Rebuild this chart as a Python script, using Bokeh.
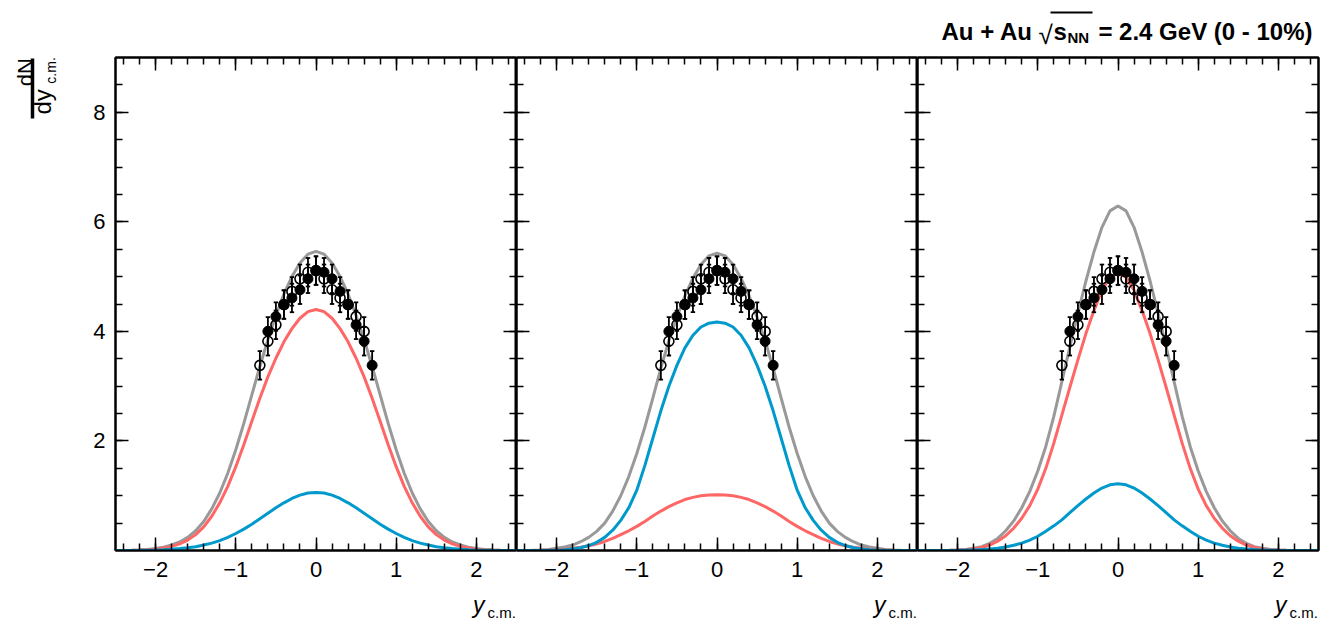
from bokeh.plotting import figure
from bokeh.models import FixedTicker, LinearAxis, Range1d, ColumnDataSource
from bokeh.layouts import row, column
from bokeh.core.properties import value
from bokeh.embed import file_html
from bokeh.resources import INLINE

# ---------------- data ----------------
x_model = [-2.5, -2.4, -2.3, -2.2, -2.1, -2.0, -1.9, -1.8, -1.7, -1.6, -1.5, -1.4, -1.3,
           -1.2, -1.1, -1.0, -0.9, -0.8, -0.7, -0.6, -0.5, -0.4, -0.3, -0.2, -0.1, 0.0,
           0.1, 0.2, 0.3, 0.4, 0.5, 0.6, 0.7, 0.8, 0.9, 1.0, 1.1, 1.2, 1.3, 1.4, 1.5,
           1.6, 1.7, 1.8, 1.9, 2.0, 2.1, 2.2, 2.3, 2.4, 2.5]

# panel 1
gray_1 = [0.0, 0.002, 0.005, 0.01, 0.02, 0.035, 0.06, 0.10, 0.155, 0.24, 0.36, 0.53, 0.76,
          1.05, 1.41, 1.84, 2.32, 2.84, 3.36, 3.85, 4.29, 4.68, 5.00, 5.25, 5.41, 5.46,
          5.41, 5.25, 5.00, 4.68, 4.29, 3.85, 3.36, 2.84, 2.32, 1.84, 1.41, 1.05, 0.76, 0.53,
          0.36, 0.24, 0.155, 0.10, 0.06, 0.035, 0.02, 0.01, 0.005, 0.002, 0.0]
red_1 = [0.0, 0.002, 0.004, 0.007, 0.014, 0.025, 0.045, 0.075, 0.12, 0.19, 0.29, 0.43, 0.625,
         0.87, 1.17, 1.53, 1.93, 2.36, 2.78, 3.17, 3.51, 3.81, 4.05, 4.24, 4.36, 4.40,
         4.36, 4.24, 4.05, 3.81, 3.51, 3.17, 2.78, 2.36, 1.93, 1.53, 1.17, 0.87, 0.625, 0.43,
         0.29, 0.19, 0.12, 0.075, 0.045, 0.025, 0.014, 0.007, 0.004, 0.002, 0.0]
blue_1 = [0.0, 0.0, 0.001, 0.003, 0.006, 0.01, 0.015, 0.025, 0.035, 0.05, 0.07, 0.10, 0.135,
          0.18, 0.24, 0.31, 0.39, 0.48, 0.58, 0.68, 0.78, 0.87, 0.95, 1.01, 1.05, 1.06,
          1.05, 1.01, 0.95, 0.87, 0.78, 0.68, 0.58, 0.48, 0.39, 0.31, 0.24, 0.18, 0.135, 0.10,
          0.07, 0.05, 0.035, 0.025, 0.015, 0.01, 0.006, 0.003, 0.001, 0.0, 0.0]

# panel 2
gray_2 = [0.0, 0.002, 0.005, 0.01, 0.02, 0.04, 0.065, 0.10, 0.16, 0.24, 0.35, 0.50, 0.72,
          1.00, 1.35, 1.77, 2.25, 2.78, 3.33, 3.83, 4.26, 4.65, 4.97, 5.22, 5.38, 5.43,
          5.38, 5.22, 4.97, 4.65, 4.26, 3.83, 3.33, 2.78, 2.25, 1.77, 1.35, 1.00, 0.72, 0.50,
          0.35, 0.24, 0.16, 0.10, 0.065, 0.04, 0.02, 0.01, 0.005, 0.002, 0.0]
red_2 = [0.0, 0.001, 0.002, 0.005, 0.009, 0.015, 0.025, 0.04, 0.06, 0.085, 0.12, 0.165, 0.22,
         0.29, 0.36, 0.44, 0.53, 0.63, 0.72, 0.80, 0.87, 0.93, 0.97, 1.00, 1.015, 1.02,
         1.015, 1.00, 0.97, 0.93, 0.87, 0.80, 0.72, 0.63, 0.53, 0.44, 0.36, 0.29, 0.22, 0.165,
         0.12, 0.085, 0.06, 0.04, 0.025, 0.015, 0.009, 0.005, 0.002, 0.001, 0.0]
blue_2 = [0.0, 0.0, 0.001, 0.002, 0.004, 0.008, 0.015, 0.03, 0.05, 0.09, 0.15, 0.24, 0.37,
          0.55, 0.78, 1.10, 1.55, 2.05, 2.55, 3.00, 3.38, 3.70, 3.93, 4.08, 4.15, 4.17,
          4.15, 4.08, 3.93, 3.70, 3.38, 3.00, 2.55, 2.05, 1.55, 1.10, 0.78, 0.55, 0.37, 0.24,
          0.15, 0.09, 0.05, 0.03, 0.015, 0.008, 0.004, 0.002, 0.001, 0.0, 0.0]

# panel 3
gray_3 = [0.0, 0.0, 0.001, 0.002, 0.005, 0.01, 0.02, 0.04, 0.07, 0.13, 0.22, 0.36, 0.54,
          0.78, 1.08, 1.45, 1.90, 2.45, 3.08, 3.72, 4.33, 4.92, 5.45, 5.90, 6.20, 6.29,
          6.20, 5.90, 5.45, 4.92, 4.33, 3.72, 3.08, 2.45, 1.90, 1.45, 1.08, 0.78, 0.54, 0.36,
          0.22, 0.13, 0.07, 0.04, 0.02, 0.01, 0.005, 0.002, 0.001, 0.0, 0.0]
red_3 = [0.0, 0.0, 0.0, 0.001, 0.003, 0.007, 0.015, 0.03, 0.055, 0.10, 0.17, 0.27, 0.41,
         0.59, 0.82, 1.12, 1.50, 1.96, 2.47, 2.98, 3.48, 3.96, 4.38, 4.75, 4.99, 5.06,
         4.99, 4.75, 4.38, 3.96, 3.48, 2.98, 2.47, 1.96, 1.50, 1.12, 0.82, 0.59, 0.41, 0.27,
         0.17, 0.10, 0.055, 0.03, 0.015, 0.007, 0.003, 0.001, 0.0, 0.0, 0.0]
blue_3 = [0.0, 0.0, 0.0, 0.001, 0.002, 0.004, 0.007, 0.011, 0.018, 0.028, 0.043, 0.065, 0.095,
          0.135, 0.19, 0.26, 0.35, 0.45, 0.56, 0.69, 0.82, 0.94, 1.05, 1.14, 1.20, 1.22,
          1.20, 1.14, 1.05, 0.94, 0.82, 0.69, 0.56, 0.45, 0.35, 0.26, 0.19, 0.135, 0.095, 0.065,
          0.043, 0.028, 0.018, 0.011, 0.007, 0.004, 0.002, 0.001, 0.0, 0.0, 0.0]

# measured points (same in every panel)
filled_x = [-0.6, -0.5, -0.4, -0.3, -0.2, -0.1, 0.0, 0.1, 0.2, 0.3, 0.4, 0.5, 0.6, 0.7]
filled_y = [4.00, 4.27, 4.49, 4.61, 4.76, 4.96, 5.11, 5.08, 4.96, 4.73, 4.49, 4.12, 3.82, 3.38]
filled_err = [0.26, 0.26, 0.26, 0.26, 0.26, 0.26, 0.26, 0.26, 0.26, 0.26, 0.26, 0.26, 0.26, 0.26]
open_x = [-0.7, -0.6, -0.5, -0.4, -0.3, -0.2, -0.1, 0.0, 0.1, 0.2, 0.3, 0.4, 0.5, 0.6]
open_y = [3.38, 3.82, 4.12, 4.49, 4.73, 4.96, 5.08, 5.11, 4.96, 4.76, 4.61, 4.49, 4.27, 4.00]
open_err = [0.26, 0.26, 0.26, 0.26, 0.26, 0.26, 0.26, 0.26, 0.26, 0.26, 0.26, 0.26, 0.26, 0.26]

x_major = [-2, -1, 0, 1, 2]
x_labels = {-2: "\u22122", -1: "\u22121", 0: "0", 1: "1", 2: "2"}
y_major = [2, 4, 6, 8]
y_labels = {2: "2", 4: "4", 6: "6", 8: "8"}

title_parts = ["Au + Au", "\u221a", "s", "NN", "= 2.4 GeV (0 - 10%)"]
ylabel_parts = ["dN", "dy", "c.m."]
xlabel_parts = ["y", "c.m."]

panels = [(gray_1, red_1, blue_1), (gray_2, red_2, blue_2), (gray_3, red_3, blue_3)]

# ---------------- style / layout ----------------
FONT = "Liberation Sans"
GRAY, RED, BLUE = "#999999", "#ff6666", "#0099cc"
W, H = 1332, 621
FW, FH = 401, 493
HEADER_H = 56          # header strip height
PANEL_TOP = 1          # small top border so frame line is whole (frame top at 57)
PANEL_BOTTOM = 40      # room for the tick labels
FOOTER_H = H - HEADER_H - PANEL_TOP - FH - PANEL_BOTTOM
LEFT_W = 60            # strip holding the y title
P1_LEFT = 55           # room for y tick labels
P3_RIGHT = 14
XMIN, XMAX, YMIN, YMAX = -2.5, 2.5, 0.0, 9.0
PANEL_LEFT = [115, 516, 917]

x_minor = [round(-2.4 + 0.2 * k, 1) for k in range(25)]
y_minor = [0.5 * k for k in range(1, 18)]


def style_axis(ax, ticker, show_labels, overrides=None):
    ax.ticker = ticker
    ax.axis_line_color = "black"
    ax.axis_line_width = 2
    ax.major_tick_in = 13
    ax.major_tick_out = 0
    ax.minor_tick_in = 7
    ax.minor_tick_out = 0
    ax.major_tick_line_width = 1.5
    ax.minor_tick_line_width = 1.5
    ax.major_tick_line_color = "black"
    ax.minor_tick_line_color = "black"
    if show_labels:
        ax.major_label_text_font = FONT
        ax.major_label_text_font_size = "22px"
        ax.major_label_text_color = "black"
        if overrides:
            ax.major_label_overrides = overrides
    else:
        ax.major_label_text_font_size = "0px"
        ax.major_label_text_color = None
        ax.major_label_standoff = 0


def pixel_fig(width, height, x0, y_top):
    """A blank figure whose data coordinates are page pixels."""
    f = figure(width=width, height=height,
               x_range=Range1d(x0, x0 + width), y_range=Range1d(y_top + height, y_top),
               output_backend="svg", toolbar_location=None,
               x_axis_location=None, y_axis_location=None, min_border=0)
    f.grid.visible = False
    f.outline_line_color = None
    f.background_fill_color = "white"
    f.border_fill_color = "white"
    return f


def put_text(f, x, y, txt, size, align="left", baseline="alphabetic", style="normal", angle=0.0):
    f.text(x=[x], y=[y], text=[txt], text_font=value(FONT), text_font_size=value(f"{size}px"),
           text_align=align, text_baseline=baseline, text_font_style=style, angle=angle,
           text_color="black")


figs = []
for i, (g, r, b) in enumerate(panels):
    p = figure(frame_width=FW, frame_height=FH,
               x_range=Range1d(XMIN, XMAX), y_range=Range1d(YMIN, YMAX),
               output_backend="svg", toolbar_location=None,
               min_border_left=P1_LEFT if i == 0 else 0,
               min_border_right=P3_RIGHT if i == 2 else 0,
               min_border_top=PANEL_TOP, min_border_bottom=PANEL_BOTTOM)
    p.grid.visible = False
    p.outline_line_color = "black"
    p.outline_line_width = 2
    p.background_fill_color = "white"
    p.border_fill_color = "white"

    style_axis(p.xaxis[0], FixedTicker(ticks=x_major, minor_ticks=x_minor), True, x_labels)
    p.xaxis[0].major_label_standoff = 11
    style_axis(p.yaxis[0], FixedTicker(ticks=y_major, minor_ticks=y_minor), i == 0, y_labels)
    if i == 0:
        p.yaxis[0].major_label_standoff = 10
    rax = LinearAxis()
    style_axis(rax, FixedTicker(ticks=y_major, minor_ticks=y_minor), False)
    p.add_layout(rax, "right")
    tax = LinearAxis()
    style_axis(tax, FixedTicker(ticks=x_major, minor_ticks=x_minor), False)
    p.add_layout(tax, "above")

    src = ColumnDataSource(dict(x=x_model, g=g, r=r, b=b))
    p.line("x", "g", source=src, line_color=GRAY, line_width=3)
    p.line("x", "r", source=src, line_color=RED, line_width=3)
    p.line("x", "b", source=src, line_color=BLUE, line_width=3)

    cap = 2.2 * (XMAX - XMIN) / FW
    for xs, ys, es in ((filled_x, filled_y, filled_err), (open_x, open_y, open_err)):
        lo = [y - e for y, e in zip(ys, es)]
        hi = [y + e for y, e in zip(ys, es)]
        p.segment(x0=xs, y0=lo, x1=xs, y1=hi, line_color="black", line_width=1.8)
        p.segment(x0=[x - cap for x in xs], y0=hi, x1=[x + cap for x in xs], y1=hi,
                  line_color="black", line_width=1.8)
        p.segment(x0=[x - cap for x in xs], y0=lo, x1=[x + cap for x in xs], y1=lo,
                  line_color="black", line_width=1.8)
    p.scatter(filled_x, filled_y, marker="circle", size=10, fill_color="black",
              line_color="black")
    p.scatter(open_x, open_y, marker="circle", size=10, fill_color=None,
              line_color="black", line_width=1.6)
    figs.append(p)

# header strip with the collision label
header = pixel_fig(W, HEADER_H, 0, 0)
put_text(header, 941, 31, title_parts[0], 24, style="bold")
put_text(header, 1038, 34, title_parts[1], 26)
header.segment(x0=[1050], y0=[12], x1=[1092], y1=[12], line_color="black", line_width=2)
put_text(header, 1053, 31, title_parts[2], 24, style="bold")
put_text(header, 1067, 37, title_parts[3], 15, style="bold")
put_text(header, 1312, 31, title_parts[4], 24, align="right", style="bold")

# left strip with dN / dy_c.m.
left = pixel_fig(LEFT_W, PANEL_TOP + FH + PANEL_BOTTOM, 0, HEADER_H)
put_text(left, 25, 72, ylabel_parts[0], 22, align="center", baseline="middle", angle=1.5708)
left.segment(x0=[32], y0=[57], x1=[32], y1=[122], line_color="black", line_width=3.5)
put_text(left, 42, 104, ylabel_parts[1], 24, align="center", baseline="middle", angle=1.5708)
put_text(left, 50, 70, ylabel_parts[2], 14, align="center", baseline="middle", angle=1.5708)

# footer strip with the y_c.m. axis titles
footer = pixel_fig(W, FOOTER_H, 0, H - FOOTER_H)
for pl in PANEL_LEFT:
    right_edge = pl + FW
    put_text(footer, right_edge - 32, 604, xlabel_parts[0], 23, align="right", style="italic")
    put_text(footer, right_edge - 29, 612, xlabel_parts[1], 15)

layout = column(header, row(left, *figs), footer)
open("out.html", "w").write(file_html(layout, INLINE))
